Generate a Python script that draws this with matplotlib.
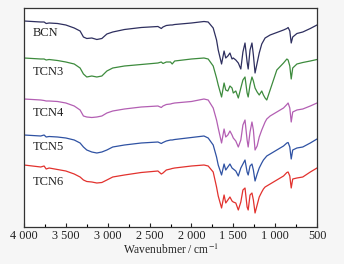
import matplotlib
matplotlib.use("Agg")
import matplotlib.pyplot as plt
from matplotlib.ticker import FixedLocator, MultipleLocator

plt.rcParams['font.family'] = ['Liberation Serif', 'DejaVu Serif']
plt.rcParams['mathtext.fontset'] = 'stix'

wavenumber = [4000, 3900, 3800, 3760, 3735, 3700, 3600, 3500, 3400, 3330,
              3290, 3250, 3190, 3130, 3070, 3010, 2940, 2800, 2600, 2400,
              2360, 2340, 2300, 2250, 2230, 2200, 2000, 1850, 1800, 1740,
              1700, 1680, 1640, 1610, 1590, 1565, 1540, 1515, 1500, 1470,
              1440, 1410, 1385, 1360, 1335, 1322, 1300, 1277, 1260, 1240,
              1215, 1190, 1160, 1140, 1120, 1100, 1060, 980, 900, 860,
              845, 825, 808, 790, 740, 670, 580, 500]

bcn = [206, 205.5, 205, 205, 203.5, 204, 203.5, 202, 199, 196,
       190, 188.5, 189, 187.5, 188.5, 193, 195, 197.5, 199.5, 200.5,
       198.5, 200, 201.5, 202, 202, 202.5, 204, 205.5, 205, 199,
       187, 177, 163, 176, 169, 171, 174, 168, 169, 167,
       164, 158, 175, 184, 165, 158, 177, 184, 172, 154,
       164, 174, 183, 186, 189, 190, 192, 194.5, 197, 198.5,
       199.5, 196, 184, 190, 193.5, 195, 198.5, 202]

tcn3 = [169, 168.5, 168, 168, 167, 167.5, 166.5, 165, 163, 159,
        153, 150, 151, 150, 151, 156, 159, 161, 162.5, 164,
        165, 163.5, 165, 165, 163, 166, 168, 169, 168, 161,
        149, 142, 130, 144, 137, 136, 141, 139, 134, 136,
        129, 139, 147, 150, 134, 130, 142, 150, 146, 139,
        135, 132, 136, 132, 129, 127, 137, 157, 164, 168,
        167, 161, 148, 159, 163, 164.5, 166, 167.5]

tcn4 = [128, 127.5, 127, 126.5, 126, 126, 125.5, 124, 121, 117,
        111, 110, 109.5, 110, 111, 114, 116, 118, 120, 121,
        119.5, 121, 122.5, 123, 123.5, 124, 125.5, 128, 127, 119,
        107, 99, 84, 98, 90, 92, 96, 92, 89, 86,
        80, 87, 102, 107, 87, 80, 95, 105, 97, 77,
        81, 90, 97, 101, 105, 108, 111, 115, 119, 122.5,
        124, 119, 105, 115, 117, 118, 121, 124]

tcn5 = [92, 91.5, 91, 92, 90, 90.5, 90, 89, 87, 84,
        80, 77, 75, 74, 75, 77, 80, 82, 84, 85,
        83.5, 84.5, 86, 87, 87, 87.5, 89.5, 91, 89, 82,
        70, 62, 52, 63, 57, 60, 63, 59, 58, 56,
        51, 59, 63, 67, 55, 52, 61, 63, 57, 46,
        53, 59, 64, 67, 69, 71, 73, 77, 81, 84,
        84.5, 80, 68, 77, 79, 80, 84, 88]

tcn6 = [62, 61, 60, 61, 58, 59, 57.5, 56, 53, 50,
        47, 45.5, 45, 44, 44.5, 47, 50, 52, 54.5, 56,
        53, 54, 57, 58, 58.5, 59, 61, 62, 61, 55,
        40, 31, 19, 32, 24, 27, 30, 26, 25, 24,
        17, 25, 37, 39, 20, 17, 32, 34, 27, 14,
        22, 30, 35, 38, 40, 41, 43, 47, 51, 54.5,
        55, 51, 39, 48, 49, 50, 55, 59]

series_names = ["BCN", "TCN3", "TCN4", "TCN5", "TCN6"]
series_values = [bcn, tcn3, tcn4, tcn5, tcn6]
series_colors = ["#2e2f5f", "#3d8b3d", "#b35fb3", "#2f52a3", "#e2322e"]
label_y = [194, 155, 113.5, 80, 45]

tick_values = [4000, 3500, 3000, 2500, 2000, 1500, 1000, 500]
tick_labels = ["4 000", "3 500", "3 000", "2 500", "2 000", "1 500", "1 000", "500"]

fig = plt.figure(figsize=(3.44, 2.64), dpi=100, facecolor="#f6f6f6")
ax = fig.add_axes([24/344, 1-227/264, 293/344, 219/264])
ax.set_facecolor("white")

for name, vals, col, ly in zip(series_names, series_values, series_colors, label_y):
    ax.plot(wavenumber, vals, color=col, lw=0.9)
    ax.text(3895, ly, name, fontsize=9, va="center", ha="left", color="#222222")

ax.set_xlim(4000, 500)
ax.set_ylim(0, 219)
ax.xaxis.set_major_locator(FixedLocator(tick_values))
ax.set_xticklabels(tick_labels)
ax.xaxis.set_minor_locator(MultipleLocator(250))
ax.tick_params(axis="x", which="major", direction="in", length=3, width=0.8,
               labelsize=8.8, pad=2, colors="#222222")
ax.tick_params(axis="x", which="minor", direction="in", length=2, width=0.8)
ax.set_yticks([])
for sp in ax.spines.values():
    sp.set_linewidth(0.9)
    sp.set_color("#333333")
ax.set_xlabel(r"Wavenubmer / cm$^{-1}$", fontsize=8.3, labelpad=1, color="#222222")

fig.savefig("out.png", dpi=100, facecolor=fig.get_facecolor())
